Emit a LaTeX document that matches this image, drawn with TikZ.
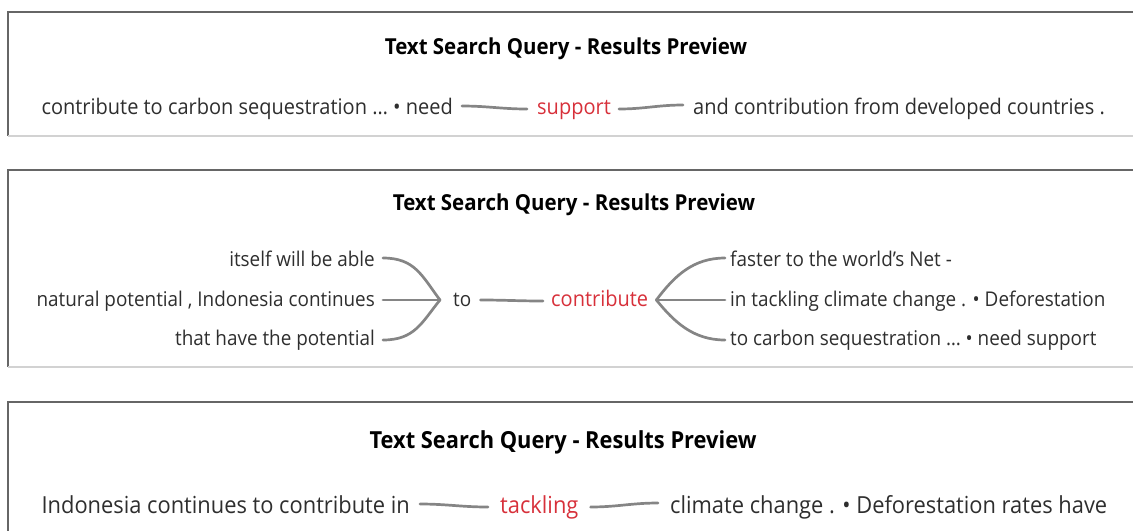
\documentclass[tikz,border=0pt]{standalone}
\usepackage{fontspec}
\setmainfont{Open Sans}[FakeStretch=0.93]
\usepackage{xcolor}
\usepackage{tikz}
\usetikzlibrary{positioning}
\definecolor{ink}{HTML}{2E2E2E}
\definecolor{head}{HTML}{000000}
\definecolor{hit}{HTML}{D7303A}
\definecolor{wire}{HTML}{858585}
\definecolor{frame}{HTML}{666666}
\definecolor{shade}{HTML}{D2D2D2}
\tikzset{
  ctx/.style={text=ink, font=\fontsize{#1}{26}\selectfont, inner sep=0pt},
  ctx/.default=21.5,
  key/.style={ctx=#1, text=hit},
  key/.default=21.5,
  ttl/.style={text=head, font=\bfseries\fontsize{#1}{26}\selectfont, inner sep=0pt},
  ttl/.default=22,
  link/.style={draw=wire, line width=2.7pt, line cap=round},
  edge/.style={draw=frame, line width=1.4pt},
  foot/.style={draw=shade, line width=2pt},
}

\begin{document}
\begin{tikzpicture}[x=1pt,y=-1pt]
  \useasboundingbox (0,0) rectangle (1133,531);
  % panel frames
  \draw[edge] (1133,12) -- (8,12) -- (8,136);
  \draw[foot] (8,136) -- (1133,136);
  \draw[edge] (1133,170) -- (8,170) -- (8,367);
  \draw[foot] (8,367) -- (1133,367);
  \draw[edge] (1133,402) -- (8,402) -- (8,531);

  % first preview
  \node[ttl,anchor=base] (t1) at (566,54) {Text Search Query - Results Preview};
  \node[ctx,anchor=base east] (a1) at (453,114) {contribute to carbon sequestration … • need};
  \node[key,anchor=base west] (k1) at (537,114) {support};
  \node[ctx,anchor=base west] (b1) at (693,114) {and contribution from developed countries .};
  \draw[link] ([xshift=9pt,yshift=8pt]a1.base east) to[out=0,in=180] ([xshift=-10pt,yshift=5pt]k1.base west);
  \draw[link] ([xshift=8pt,yshift=5pt]k1.base east) to[out=0,in=180] ([xshift=-10pt,yshift=9pt]b1.base west);

  % second preview
  \node[ttl,anchor=base] (t2) at (574,210) {Text Search Query - Results Preview};
  \node[ctx=20.3,anchor=base east] (l1) at (375,266) {itself will be able};
  \node[ctx=20.3,anchor=base east] (l2) at (375,306) {natural potential , Indonesia continues};
  \node[ctx=20.3,anchor=base east] (l3) at (375,345) {that have the potential};
  \node[ctx=20.3,anchor=base west] (to) at (453,306) {to};
  \node[key,anchor=base west] (k2) at (551,306) {contribute};
  \node[ctx=20.3,anchor=base west] (r1) at (730,266) {faster to the world's Net -};
  \node[ctx=20.3,anchor=base west] (r2) at (730,306) {in tackling climate change . • Deforestation};
  \node[ctx=20.3,anchor=base west] (r3) at (730,345) {to carbon sequestration … • need support};
  \coordinate (mL) at ([xshift=-13pt,yshift=6pt]to.base west);
  \coordinate (mR) at ([xshift=8pt,yshift=6pt]k2.base east);
  \draw[link] ([xshift=8pt,yshift=8pt]l1.base east) .. controls +(32,0) and +(-18,-24) .. (mL);
  \draw[link] ([xshift=8pt,yshift=6pt]l2.base east) -- (mL);
  \draw[link] ([xshift=8pt,yshift=5pt]l3.base east) .. controls +(32,0) and +(-18,22) .. (mL);
  \draw[link] ([xshift=9pt,yshift=6pt]to.base east) to[out=0,in=180] ([xshift=-8pt,yshift=5pt]k2.base west);
  \draw[link] (mR) .. controls +(18,-24) and +(-32,0) .. ([xshift=-5pt,yshift=8pt]r1.base west);
  \draw[link] (mR) -- ([xshift=-5pt,yshift=6pt]r2.base west);
  \draw[link] (mR) .. controls +(18,22) and +(-32,0) .. ([xshift=-5pt,yshift=5pt]r3.base west);

  % third preview
  \node[ttl=23.5,anchor=base] (t3) at (563,448) {Text Search Query - Results Preview};
  \node[ctx=23.5,anchor=base east] (a3) at (410,513) {Indonesia continues to contribute in};
  \node[key=23.5,anchor=base west] (k3) at (500,513) {tackling};
  \node[ctx=23.5,anchor=base west] (b3) at (670,513) {climate change . • Deforestation rates have};
  \draw[link] ([xshift=10pt,yshift=9pt]a3.base east) to[out=0,in=180] ([xshift=-12pt,yshift=6pt]k3.base west);
  \draw[link] ([xshift=12pt,yshift=6pt]k3.base east) to[out=0,in=180] ([xshift=-12pt,yshift=10pt]b3.base west);
\end{tikzpicture}
\end{document}
